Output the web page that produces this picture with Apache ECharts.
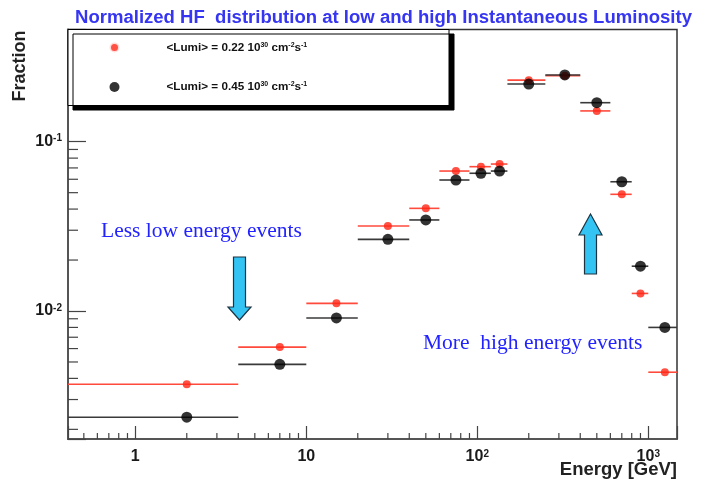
<!DOCTYPE html>
<html>
<head>
<meta charset="utf-8">
<script src="https://cdn.jsdelivr.net/npm/echarts@6/dist/echarts.min.js"></script>
<style>
  html, body { margin: 0; padding: 0; background: #ffffff; }
  #chart { width: 707px; height: 482px; }
</style>
</head>
<body>
<div id="chart"></div>
<script>
// Energy bins [GeV]: lower edge, upper edge and the point drawn inside each bin
const binLow    = [0.4, 4, 10, 20, 40, 60, 90, 120, 150, 250, 400, 600, 800, 1000];
const binHigh   = [4, 10, 20, 40, 60, 90, 120, 150, 250, 400, 600, 800, 1000, 1500];
const binCenter = [2, 7, 15, 30, 50, 75, 105, 135, 200, 325, 500, 700, 900, 1250];

// Normalized fraction of HF events per energy bin
const fracLowLumi  = [0.00369, 0.00612, 0.0111, 0.0318, 0.0404, 0.0671, 0.0712, 0.0738, 0.231, 0.2455, 0.152, 0.0489, 0.0127, 0.00435];
const fracHighLumi = [0.00236, 0.00484, 0.0091, 0.0265, 0.0345, 0.0594, 0.0651, 0.0671, 0.219, 0.248, 0.170, 0.0580, 0.0184, 0.0080];

// Minor tick values of the two logarithmic axes
const xMinorTicks = [0.5, 0.6, 0.7, 0.8, 0.9, 2, 3, 4, 5, 6, 7, 8, 9, 20, 30, 40, 50, 60, 70, 80, 90, 200, 300, 400, 500, 600, 700, 800, 900];
const yMinorTicks = [0.002, 0.003, 0.004, 0.005, 0.006, 0.007, 0.008, 0.009, 0.02, 0.03, 0.04, 0.05, 0.06, 0.07, 0.08, 0.09, 0.2, 0.3, 0.4];

// Legend entries
const seriesNames  = ['lumiLow', 'lumiHigh'];
const seriesLabels = ['<Lumi> = 0.22 10{s|30} cm{s|-2}s{s|-1}', '<Lumi> = 0.45 10{s|30} cm{s|-2}s{s|-1}'];

const X_MIN = 0.404, X_MAX = 1472;
const Y_MIN = 0.001754, Y_MAX = 0.46;

const RED = '#ff2414', RED_BAR = '#ff4a3c';
const BLACK = '#000000', BLACK_BAR = '#3a3a3a';
const FRAME = '#444444';

function powerLabel(v) {
  const e = Math.round(Math.log10(v) * 1000) / 1000;
  if (!Number.isInteger(e)) return '';
  if (e === 0) return '1';
  if (e === 1) return '10';
  return '10{s|' + e + '}';
}

function barRenderer(color) {
  return function (params, api) {
    const cs = params.coordSys;
    const y = api.value(2);
    const a = api.coord([api.value(0), y]);
    const b = api.coord([api.value(1), y]);
    const x1 = Math.max(a[0], cs.x);
    const x2 = Math.min(b[0], cs.x + cs.width);
    return {
      type: 'line',
      shape: { x1: x1, y1: a[1], x2: x2, y2: a[1] },
      style: { stroke: color, lineWidth: 1.6 }
    };
  };
}

function xMinorRenderer(params, api) {
  const p = api.coord([api.value(0), api.value(1)]);
  return { type: 'line', shape: { x1: p[0], y1: p[1], x2: p[0], y2: p[1] - 6 }, style: { stroke: FRAME, lineWidth: 1.2 } };
}
function yMinorRenderer(params, api) {
  const p = api.coord([api.value(0), api.value(1)]);
  return { type: 'line', shape: { x1: p[0], y1: p[1], x2: p[0] + 10, y2: p[1] }, style: { stroke: FRAME, lineWidth: 1.2 } };
}

const tickFont = { fontFamily: 'Liberation Sans', fontWeight: 'bold', fontSize: 16, color: '#1a1a1a' };
const supStyle = { fontFamily: 'Liberation Sans', fontWeight: 'bold', fontSize: 10, color: '#1a1a1a', verticalAlign: 'top' };

const chart = echarts.init(document.getElementById('chart'), null, { renderer: 'canvas' });

chart.setOption({
  animation: false,
  backgroundColor: '#ffffff',
  grid: { left: 68, right: 30, top: 29.5, bottom: 43, show: true, borderColor: '#333333', borderWidth: 1.5, backgroundColor: 'transparent' },
  xAxis: {
    type: 'log', logBase: 10, min: X_MIN, max: X_MAX,
    axisLine: { show: true, lineStyle: { color: '#555555', width: 2 } },
    axisTick: { show: true, inside: true, length: 13, lineStyle: { color: FRAME, width: 1.2 } },
    splitLine: { show: false },
    axisLabel: Object.assign({ margin: 10, formatter: powerLabel, rich: { s: supStyle } }, tickFont)
  },
  yAxis: {
    type: 'log', logBase: 10, min: Y_MIN, max: Y_MAX,
    axisLine: { show: true, lineStyle: { color: '#555555', width: 2 } },
    axisTick: { show: true, inside: true, length: 18, lineStyle: { color: FRAME, width: 1.2 } },
    splitLine: { show: false },
    axisLabel: Object.assign({ margin: 6, formatter: powerLabel, rich: { s: supStyle } }, tickFont)
  },
  legend: {
    orient: 'vertical', left: 108, top: 41, z: 20, padding: 0,
    itemWidth: 10, itemHeight: 10, itemGap: 27,
    selectedMode: false,
    data: [
      { name: seriesNames[0], icon: 'circle', itemStyle: { color: RED, borderColor: '#ffffff', borderWidth: 3 } },
      { name: seriesNames[1], icon: 'circle', itemStyle: { color: BLACK } }
    ],
    formatter: function (name) { return seriesLabels[seriesNames.indexOf(name)]; },
    textStyle: {
      fontFamily: 'Liberation Sans', fontWeight: 'bold', fontSize: 11.7, color: '#111111',
      padding: [0, 0, 0, 42],
      rich: { s: { fontFamily: 'Liberation Sans', fontWeight: 'bold', fontSize: 7, color: '#111111', verticalAlign: 'top' } }
    }
  },
  graphic: [
    { type: 'text', x: 75, y: 18, z: 30, scaleX: 1.03,
      style: { x: 0, y: 0, text: 'Normalized HF  distribution at low and high Instantaneous Luminosity',
        font: 'bold 18px "Liberation Sans"', fill: '#3535f2', align: 'left', verticalAlign: 'middle' } },
    { type: 'text', x: 20, y: 66, rotation: Math.PI / 2, z: 30,
      style: { x: 0, y: 0, text: 'Fraction', font: 'bold 18px "Liberation Sans"', fill: '#222222', align: 'center', verticalAlign: 'middle' } },
    { type: 'text', x: 677, y: 470, z: 30,
      style: { x: 0, y: 0, text: 'Energy [GeV]', font: 'bold 18.5px "Liberation Sans"', fill: '#222222', align: 'right', verticalAlign: 'middle' } },
    { type: 'rect', z: 10,
      shape: { x: 68, y: 29.5, width: 381, height: 76 },
      style: { fill: '#ffffff', stroke: '#000000', lineWidth: 1, shadowColor: '#000000', shadowBlur: 0, shadowOffsetX: 5, shadowOffsetY: 4.5 } },
    { type: 'text', x: 101, y: 231, z: 30,
      style: { x: 0, y: 0, text: 'Less low energy events', font: '21.5px "Liberation Serif"', fill: '#2323ff', align: 'left', verticalAlign: 'middle' } },
    { type: 'text', x: 423, y: 343, z: 30,
      style: { x: 0, y: 0, text: 'More  high energy events', font: '21.5px "Liberation Serif"', fill: '#2323ff', align: 'left', verticalAlign: 'middle' } },
    { type: 'polygon', z: 30,
      shape: { points: [[233.5, 257], [245.5, 257], [245.5, 307], [251, 307], [239.5, 320], [228, 307], [233.5, 307]] },
      style: { fill: '#33c4f4', stroke: '#1d3340', lineWidth: 1.2 } },
    { type: 'polygon', z: 30,
      shape: { points: [[590.5, 214], [602, 235], [596.5, 235], [596.5, 274], [584.5, 274], [584.5, 235], [579, 235]] },
      style: { fill: '#33c4f4', stroke: '#1d3340', lineWidth: 1.2 } }
  ],
  series: [
    { type: 'custom', name: 'xMinor', renderItem: xMinorRenderer, silent: true, z: 3,
      data: xMinorTicks.map(function (v) { return [v, Y_MIN]; }) },
    { type: 'custom', name: 'yMinor', renderItem: yMinorRenderer, silent: true, z: 3,
      data: yMinorTicks.map(function (v) { return [X_MIN, v]; }) },
    { type: 'custom', name: seriesNames[0] + 'Bins', renderItem: barRenderer(RED_BAR), silent: true, z: 4,
      encode: { x: [0, 1], y: 2 },
      data: binLow.map(function (lo, i) { return [lo, binHigh[i], fracLowLumi[i]]; }) },
    { type: 'custom', name: seriesNames[1] + 'Bins', renderItem: barRenderer(BLACK_BAR), silent: true, z: 4,
      encode: { x: [0, 1], y: 2 },
      data: binLow.map(function (lo, i) { return [lo, binHigh[i], fracHighLumi[i]]; }) },
    { type: 'scatter', name: seriesNames[0], symbol: 'circle', symbolSize: 8, z: 5,
      itemStyle: { color: RED },
      data: binCenter.map(function (x, i) { return [x, fracLowLumi[i]]; }) },
    { type: 'scatter', name: seriesNames[1], symbol: 'circle', symbolSize: 11, z: 5,
      itemStyle: { color: BLACK },
      data: binCenter.map(function (x, i) { return [x, fracHighLumi[i]]; }) }
  ]
});
</script>
</body>
</html>
